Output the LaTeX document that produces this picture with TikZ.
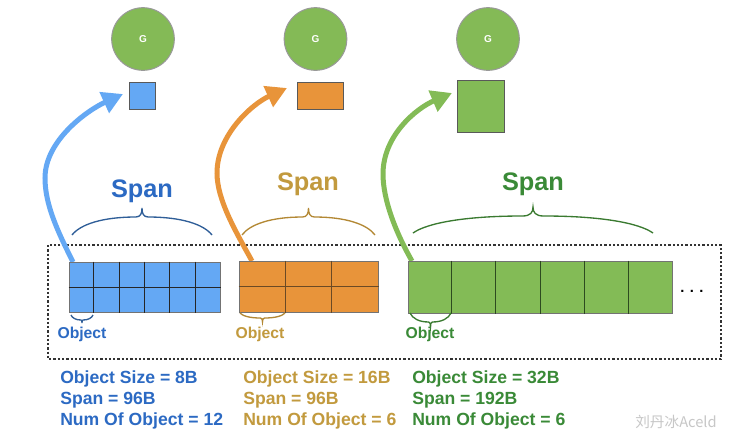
\documentclass[tikz,border=0pt]{standalone}
\usepackage{fontspec}
\setmainfont{Liberation Sans}
\newfontfamily\cjkfont{Noto Sans CJK SC}
\usetikzlibrary{arrows.meta,calc}
\definecolor{cellblue}{HTML}{64A8F4}
\definecolor{cellorange}{HTML}{E8943A}
\definecolor{cellgreen}{HTML}{83BB56}
\definecolor{txtblue}{HTML}{2C6AC3}
\definecolor{txtorange}{HTML}{C29A3E}
\definecolor{txtgreen}{HTML}{3A8A37}
\definecolor{brblue}{HTML}{2F5E98}
\definecolor{brorange}{HTML}{B38834}
\definecolor{brgreen}{HTML}{3A7A30}
\definecolor{gcircle}{HTML}{84BA56}
\definecolor{lineorange}{HTML}{6B4A25}
\definecolor{linegreen}{HTML}{2D4A20}
\newcommand{\curlybrace}[6]{%
  \draw[bracestyle,#6] (#1,#3)
    .. controls ({#1+0.06*(#2-#1)},{#3+0.6*(#4-#3)}) and ({#1+0.22*(#2-#1)},#4) .. ({0.5*(#1+#2)-0.045*(#2-#1)},#4)
    .. controls ({0.5*(#1+#2)-0.01*(#2-#1)},#4) and ({0.5*(#1+#2)},{#4+0.4*(#5-#4)}) .. ({0.5*(#1+#2)},#5)
    .. controls ({0.5*(#1+#2)},{#4+0.4*(#5-#4)}) and ({0.5*(#1+#2)+0.01*(#2-#1)},#4) .. ({0.5*(#1+#2)+0.045*(#2-#1)},#4)
    .. controls ({#2-0.22*(#2-#1)},#4) and ({#2-0.06*(#2-#1)},{#3+0.6*(#4-#3)}) .. (#2,#3);}
\tikzset{
  gnode/.style={circle, fill=gcircle, draw=black!40, line width=0.75pt, minimum size=47pt, inner sep=0pt, text=white, font=\bfseries\fontsize{7.5}{9}\selectfont},
  objbox/.style={draw=black!65, line width=0.75pt, inner sep=0pt},
  spanblock/.style={draw=black!55, line width=0.75pt, inner sep=0pt},
  gridline/.style={line width=0.6pt},
  flowarrow/.style={line width=3.75pt, -{Triangle[length=15.5pt,width=16.5pt]}},
  spanlabel/.style={font=\bfseries\fontsize{19}{22}\selectfont, anchor=base, inner sep=0pt},
  objlabel/.style={font=\bfseries\fontsize{11.8}{14}\selectfont, anchor=base, inner sep=0pt},
  info/.style={font=\bfseries\fontsize{13.2}{16}\selectfont, anchor=base west, inner sep=0pt},
  bracestyle/.style={line width=1pt},
  heapbox/.style={draw=black!80, line width=1.1pt, dash pattern=on 1.7pt off 1.5pt}
}
\begin{document}
\begin{tikzpicture}[x=0.75pt,y=-0.75pt]
\useasboundingbox (0,0) rectangle (744,430);
\fill[white] (0,0) rectangle (744,430);

% goroutines
\node[gnode] (g1) at (143,39) {G};
\node[gnode] (g2) at (315.5,39) {G};
\node[gnode] (g3) at (488,39) {G};

% allocated objects
\node[objbox, fill=cellblue, minimum width=19.5pt, minimum height=20.25pt] (bobj) at (142,95.5) {};
\node[objbox, fill=cellorange, minimum width=34.5pt, minimum height=20.25pt] (oobj) at (320,95.5) {};
\node[objbox, fill=cellgreen, minimum width=35.25pt, minimum height=39pt] (gobj) at (480.5,106) {};

% span labels
\node[spanlabel, text=txtblue] (bspanlbl) at (142,197) {Span};
\node[spanlabel, text=txtorange] (ospanlbl) at (308,190) {Span};
\node[spanlabel, text=txtgreen] (gspanlbl) at (533,190) {Span};

% span braces
\curlybrace{72}{212}{235}{217}{208}{brblue}
\curlybrace{242}{375}{235}{217}{208}{brorange}
\curlybrace{413}{653}{233}{216}{207}{brgreen}

% heap box
\draw[heapbox] (48,245) rectangle (721,359);

% arrow endpoints
\coordinate (bs) at (73,262);
\coordinate (bt) at (123,94);
\coordinate (os) at (252,261);
\coordinate (ot) at (287,88);
\coordinate (gs) at (412,261);
\coordinate (gt) at (452,93);

\draw[flowarrow, cellblue] (bs) .. controls (58,232) and (45,205) .. (45,178) .. controls (45,140) and (88,110) .. (bt);
\draw[flowarrow, cellorange] (os) .. controls (236,232) and (217,200) .. (217,173) .. controls (217,135) and (252,104) .. (ot);
\draw[flowarrow, cellgreen] (gs) .. controls (396,233) and (383,200) .. (383,174) .. controls (383,135) and (417,108) .. (gt);

% spans (blocks)
\node[spanblock, fill=cellblue, minimum width=113.25pt, minimum height=37.5pt] (bspan) at (144.5,287) {};
\foreach \k in {1,...,5}
  \draw[gridline, black!85] ($(bspan.north west)!\k/6!(bspan.north east)$) -- ($(bspan.south west)!\k/6!(bspan.south east)$);
\draw[gridline, black!85] (bspan.west) -- (bspan.east);

\node[spanblock, fill=cellorange, minimum width=104.25pt, minimum height=38.25pt] (ospan) at (308.5,286.5) {};
\foreach \k in {1,2}
  \draw[gridline, lineorange] ($(ospan.north west)!\k/3!(ospan.north east)$) -- ($(ospan.south west)!\k/3!(ospan.south east)$);
\draw[gridline, lineorange] (ospan.west) -- (ospan.east);

\node[spanblock, fill=cellgreen, minimum width=198pt, minimum height=39pt] (gspan) at (540,287) {};
\foreach \k in {1,...,5}
  \draw[gridline, linegreen] ($(gspan.north west)!\k/6!(gspan.north east)$) -- ($(gspan.south west)!\k/6!(gspan.south east)$);

\node[font=\bfseries\fontsize{11}{13}\selectfont, anchor=base, inner sep=0pt] (dots) at (692,292) {. . .};

% object braces and labels
\curlybrace{71}{93}{315}{320}{323}{brblue}
\curlybrace{240}{285}{313}{318}{322}{brorange}
\curlybrace{410}{451}{313}{322}{327}{brgreen}
\node[objlabel, text=txtblue] (bobjlbl) at (82,338) {Object};
\node[objlabel, text=txtorange] (oobjlbl) at (260,338) {Object};
\node[objlabel, text=txtgreen] (gobjlbl) at (430,338) {Object};

% info texts
\node[info, text=txtblue] (bi1) at (60,383) {Object Size = 8B};
\node[info, text=txtblue] (bi2) at (60,404) {Span = 96B};
\node[info, text=txtblue] (bi3) at (60,425) {Num Of Object = 12};
\node[info, text=txtorange] (oi1) at (243,383) {Object Size = 16B};
\node[info, text=txtorange] (oi2) at (243,404) {Span = 96B};
\node[info, text=txtorange] (oi3) at (243,425) {Num Of Object = 6};
\node[info, text=txtgreen] (gi1) at (412,383) {Object Size = 32B};
\node[info, text=txtgreen] (gi2) at (412,404) {Span = 192B};
\node[info, text=txtgreen] (gi3) at (412,425) {Num Of Object = 6};

% watermark
\node[anchor=south west, inner sep=0pt, text=black!22, font=\cjkfont\fontsize{11}{13}\selectfont] (wm) at (635,429) {刘丹冰Aceld};
\end{tikzpicture}
\end{document}
